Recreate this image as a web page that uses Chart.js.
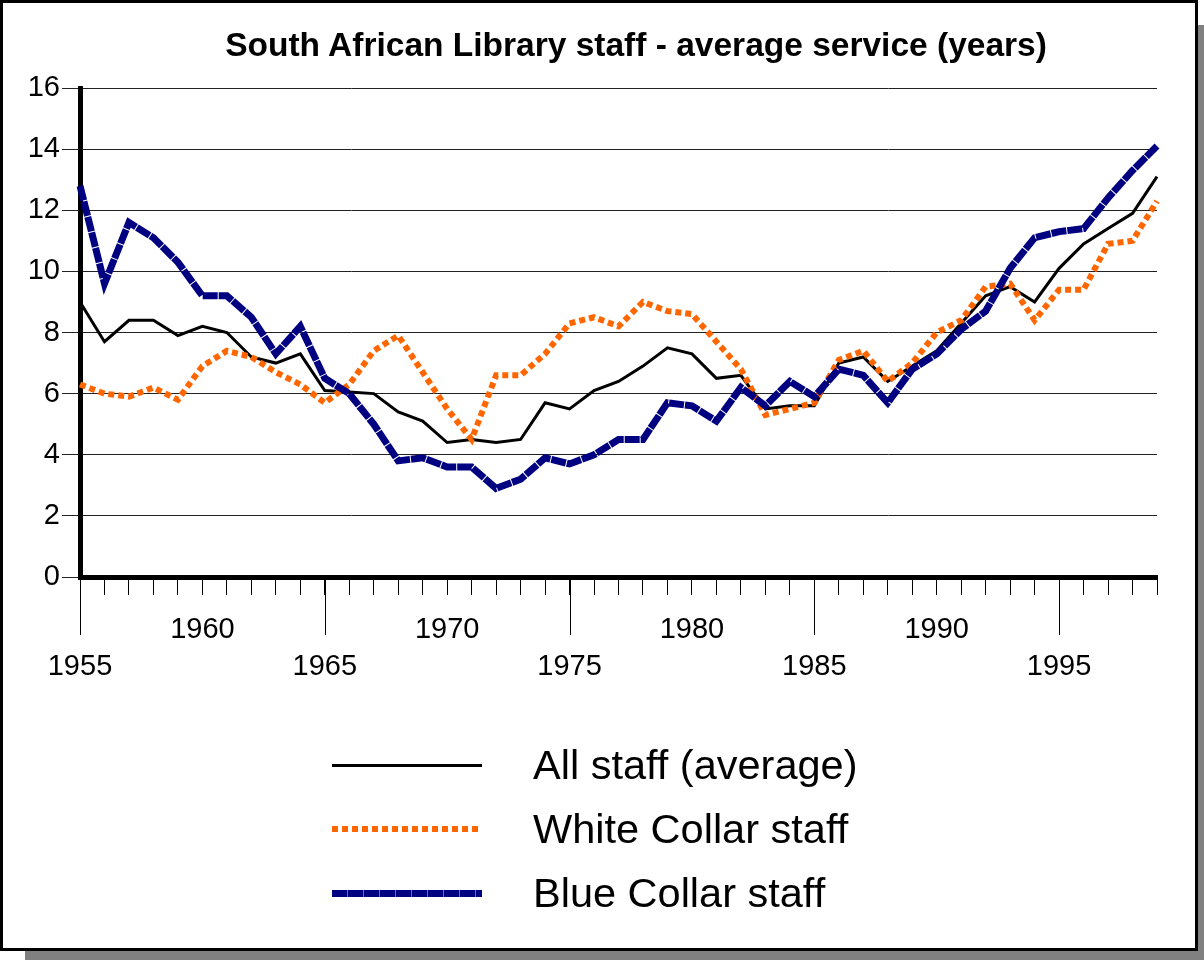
<!DOCTYPE html>
<html lang="en">
<head>
<meta charset="UTF-8">
<title>South African Library staff - average service</title>
<script src="https://cdn.jsdelivr.net/npm/chart.js"></script>
<style>
  body { margin: 0; background: #fff; font-family: "Liberation Sans", Arial, sans-serif; }
  #shadow { position: absolute; left: 25px; top: 25px; width: 1179px; height: 935px; background: #808080; }
  #frame { position: absolute; left: 0; top: 0; width: 1192px; height: 945px; border: 3px solid #000; background: #fff; }
  #chartBox { position: absolute; left: 0; top: 0; }
  #title { position: absolute; left: 636px; top: 25px; transform: translateX(-50%); white-space: nowrap;
           font-weight: bold; font-size: 33.5px; line-height: 40px; color: #000; }
  #legend { position: absolute; left: 332px; top: 733px; }
  .row { display: flex; align-items: center; height: 64px; }
  .sample { width: 150px; margin-right: 51px; }
  .label { font-size: 41.5px; color: #000; white-space: nowrap; }
</style>
<script>
  // years along the bottom
  const years = [1955, 1956, 1957, 1958, 1959, 1960, 1961, 1962, 1963, 1964,
                 1965, 1966, 1967, 1968, 1969, 1970, 1971, 1972, 1973, 1974,
                 1975, 1976, 1977, 1978, 1979, 1980, 1981, 1982, 1983, 1984,
                 1985, 1986, 1987, 1988, 1989, 1990, 1991, 1992, 1993, 1994,
                 1995, 1996, 1997, 1998, 1999];

  // average service in years
  const allStaff = [9.0, 7.7, 8.4, 8.4, 7.9, 8.2, 8.0, 7.2, 7.0, 7.3,
                    6.1, 6.05, 6.0, 5.4, 5.1, 4.4, 4.5, 4.4, 4.5, 5.7,
                    5.5, 6.1, 6.4, 6.9, 7.5, 7.3, 6.5, 6.6, 5.5, 5.6,
                    5.6, 7.0, 7.2, 6.4, 6.9, 7.4, 8.3, 9.2, 9.5, 9.0,
                    10.1, 10.9, 11.4, 11.9, 13.1];
  const whiteCollar = [6.3, 6.0, 5.9, 6.2, 5.8, 6.9, 7.4, 7.2, 6.7, 6.3,
                       5.7, 6.3, 7.4, 7.9, 6.7, 5.5, 4.5, 6.6, 6.6, 7.3,
                       8.3, 8.5, 8.2, 9.0, 8.7, 8.6, 7.7, 6.8, 5.3, 5.5,
                       5.7, 7.1, 7.4, 6.4, 7.0, 8.0, 8.4, 9.5, 9.6, 8.4,
                       9.4, 9.4, 10.9, 11.0, 12.3];
  const blueCollar = [12.8, 9.6, 11.6, 11.1, 10.3, 9.2, 9.2, 8.5, 7.3, 8.2,
                      6.5, 6.0, 5.0, 3.8, 3.9, 3.6, 3.6, 2.9, 3.2, 3.9,
                      3.7, 4.0, 4.5, 4.5, 5.7, 5.6, 5.1, 6.2, 5.6, 6.4,
                      5.9, 6.8, 6.6, 5.7, 6.8, 7.3, 8.1, 8.7, 10.1, 11.1,
                      11.3, 11.4, 12.4, 13.3, 14.1];

  const seriesNames = ['All staff (average)', 'White Collar staff', 'Blue Collar staff'];
  const chartTitle = 'South African Library staff - average service (years)';

  const font = '"Liberation Sans", Arial, sans-serif';

  // long tick marks under 1955, 1965, ...
  const majorTicks = {
    id: 'majorTicks',
    afterDraw(chart) {
      const xs = chart.scales.x;
      const ctx = chart.ctx;
      ctx.save();
      ctx.strokeStyle = '#000';
      ctx.lineWidth = 1;
      years.forEach((yr, i) => {
        if (yr % 10 === 5) {
          const px = Math.round(xs.getPixelForValue(i)) + 0.5;
          ctx.beginPath();
          ctx.moveTo(px, xs.top);
          ctx.lineTo(px, xs.top + 58);
          ctx.stroke();
        }
      });
      ctx.restore();
    }
  };

  window.onload = function () {
    document.getElementById('title').textContent = chartTitle;

    const ctx = document.getElementById('myChart').getContext('2d');
    const chart = new Chart(ctx, {
      type: 'line',
      data: {
        labels: years,
        datasets: [
          {
            label: seriesNames[2],
            data: blueCollar,
            borderColor: '#000080',
            borderWidth: 7,
            borderDash: [15, 1],
            order: 0
          },
          {
            label: seriesNames[1],
            data: whiteCollar,
            borderColor: '#FF6600',
            borderWidth: 6,
            borderDash: [6, 4],
            order: 1
          },
          {
            label: seriesNames[0],
            data: allStaff,
            borderColor: '#000000',
            borderWidth: 3,
            order: 2
          }
        ]
      },
      options: {
        responsive: false,
        animation: false,
        elements: {
          point: { radius: 0 },
          line: { tension: 0, fill: false, borderCapStyle: 'butt' }
        },
        layout: { padding: { left: 0, right: 47, top: 88, bottom: 273 } },
        plugins: {
          legend: { display: false },
          tooltip: { enabled: false },
          title: { display: false }
        },
        scales: {
          x: {
            offset: false,
            afterFit(scale) { scale.height = 110; },
            grid: { drawOnChartArea: false, offset: false, color: '#000', lineWidth: 1, tickLength: 18 },
            border: { color: '#000', width: 5 },
            ticks: {
              autoSkip: false,
              maxRotation: 0,
              padding: 16,
              color: '#000',
              font: { family: font, size: 29, lineHeight: 1.28 },
              callback: function (value) {
                const yr = Number(this.getLabelForValue(value));
                if (yr % 10 === 5) return ['', String(yr)];
                if (yr % 10 === 0) return String(yr);
                return '';
              }
            }
          },
          y: {
            min: 0,
            max: 16,
            afterFit(scale) { scale.width = 80; },
            grid: { color: '#222', lineWidth: 1, tickLength: 18 },
            border: { color: '#000', width: 5 },
            ticks: {
              stepSize: 2,
              padding: 2,
              color: '#000',
              font: { family: font, size: 29 }
            }
          }
        }
      },
      plugins: [majorTicks]
    });

    // legend rows in the original order, styled like the lines
    const samples = {
      [seriesNames[0]]: 'height:3px;background:#000;',
      [seriesNames[1]]: 'height:6px;background:repeating-linear-gradient(to right,#FF6600 0 6px,transparent 6px 10px);',
      [seriesNames[2]]: 'height:7px;background:repeating-linear-gradient(to right,#000080 0 15px,#6a6aa8 15px 16px);'
    };
    const legend = document.getElementById('legend');
    seriesNames.forEach(name => {
      const row = document.createElement('div');
      row.className = 'row';
      const s = document.createElement('div');
      s.className = 'sample';
      s.style.cssText = samples[name];
      const t = document.createElement('div');
      t.className = 'label';
      t.textContent = name;
      row.appendChild(s);
      row.appendChild(t);
      legend.appendChild(row);
    });
  };
</script>
</head>
<body>
  <div id="shadow"></div>
  <div id="frame"></div>
  <div id="chartBox"><canvas id="myChart" width="1204" height="960"></canvas></div>
  <div id="title"></div>
  <div id="legend"></div>
</body>
</html>
